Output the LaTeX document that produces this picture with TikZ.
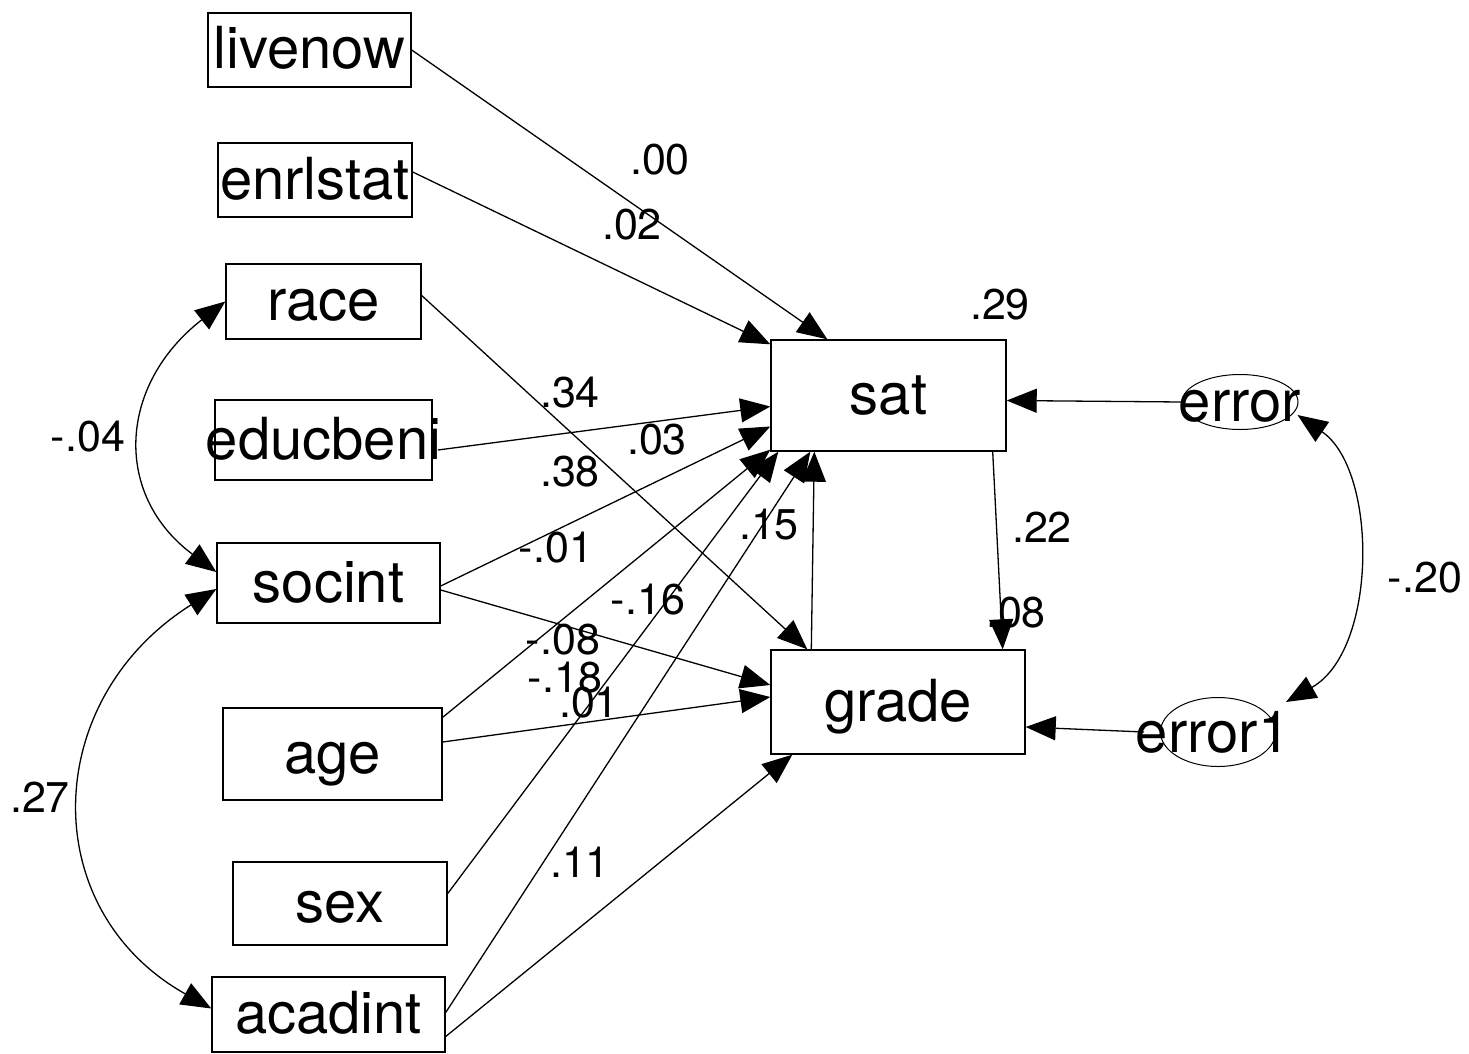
\documentclass[tikz,border=0pt]{standalone}
\usepackage{fontspec}
\setmainfont{TeX Gyre Heros}
\usetikzlibrary{arrows.meta,shapes.geometric,calc}
\begin{document}
\begin{tikzpicture}[x=1pt,y=-1pt,
  box/.style={draw, line width=1.4pt, rectangle, inner sep=0pt, font=\fontsize{58}{60}\selectfont, text height=38pt, text depth=0pt},
  err/.style={draw, line width=1pt, ellipse, inner sep=0pt},
  errtext/.style={font=\fontsize{58}{60}\selectfont, text height=30pt, text depth=0pt, inner sep=0pt},
  lbl/.style={font=\fontsize{43}{45}\selectfont, inner sep=0pt},
  conn/.style={line width=1.3pt, -{Triangle[length=30pt,width=24pt]}},
  cov/.style={line width=1.3pt, {Triangle[length=30pt,width=24pt]}-{Triangle[length=30pt,width=24pt]}}
]
\fill[white] (0,0) rectangle (1469,1054);
\useasboundingbox (0,0) rectangle (1469,1054);

% boxes
\node[box, minimum width=203pt, minimum height=74pt] (livenow) at (309.5,50) {livenow};
\node[box, minimum width=194pt, minimum height=74pt] (enrlstat) at (315,180) {enrlstat};
\node[box, minimum width=195pt, minimum height=75pt] (race) at (323.5,301.5) {race};
\node[box, minimum width=217pt, minimum height=80pt, inner xsep=-9pt] (educbeni) at (323.5,440) {educbeni};
\node[box, minimum width=223pt, minimum height=80pt] (socint) at (328.5,583) {socint};
\node[box, minimum width=219pt, minimum height=92pt] (age) at (332.5,754) {age};
\node[box, minimum width=214pt, minimum height=83pt] (sex) at (340,903.5) {sex};
\node[box, minimum width=233pt, minimum height=75pt] (acadint) at (328.5,1014.5) {acadint};
\node[box, minimum width=235pt, minimum height=111pt] (sat) at (888.5,395.5) {sat};
\node[box, minimum width=254pt, minimum height=104pt] (grade) at (898,702) {grade};
\node[err, minimum width=116pt, minimum height=55pt] (error) at (1240,402) {};
\node[err, minimum width=115pt, minimum height=69pt] (error1) at (1218,732) {};

% connectors
\draw[conn] (livenow.east) -- ($(sat.north west)+(57,0)$);
\draw[conn] ($(enrlstat.east)+(0,-8)$) -- ($(sat.north west)+(0,5)$);
\draw[conn] ($(race.east)+(0,-6)$) -- ($(grade.north west)+(37,0)$);
\draw[conn] ($(educbeni.east)+(5,10)$) -- ($(sat.west)+(0,11)$);
\draw[conn] ($(socint.east)+(0,3)$) -- ($(sat.west)+(0,31)$);
\draw[conn] ($(age.north east)+(0,10)$) -- ($(sat.south west)+(0,-2)$);
\draw[conn] ($(sex.east)+(0,-10)$) -- ($(sat.south west)+(8,0)$);
\draw[conn] ($(acadint.east)+(0,-2)$) -- ($(sat.south west)+(40,0)$);
\draw[conn] ($(acadint.east)+(0,22)$) -- ($(grade.south west)+(22,0)$);
\draw[conn] ($(socint.east)+(0,7)$) -- ($(grade.west)+(0,-17)$);
\draw[conn] ($(age.east)+(0,-12)$) -- ($(grade.west)+(0,-5)$);
\draw[conn] ($(grade.north west)+(41,0)$) -- ($(sat.south west)+(44,0)$);
\draw[conn] ($(sat.south east)+(-14,0)$) -- ($(grade.north east)+(-23,0)$);
\draw[conn] (error.west) -- ($(sat.east)+(0,5)$);
\draw[conn] ($(error1.west)+(-16,0)$) -- ($(grade.east)+(0,25)$);

% covariances
\draw[cov] ($(error.east)+(-1,13)$) .. controls (1378,470) and (1378,650) .. ($(error1.east)+(10,-30)$);
\draw[cov] (race.west) .. controls (118,385) and (113,495) .. ($(socint.west)+(0,-11)$);
\draw[cov] ($(socint.west)+(0,6)$) .. controls (40,700) and (36,910) .. ($(acadint.west)+(0,-6)$);

% ellipse texts
\node[errtext] (errortxt) at (1240,406) {error};
\node[errtext] (error1txt) at (1213,737) {error1};

% labels
\node[lbl] (l00) at (660,160) {.00};
\node[lbl] (l02) at (632,225) {.02};
\node[lbl] (l29) at (1000,305) {.29};
\node[lbl] (l34) at (570,393) {.34};
\node[lbl] (l03) at (657,440) {.03};
\node[lbl] (l38) at (570,472) {.38};
\node[lbl] (lm04) at (88,437) {-.04};
\node[lbl] (lm01) at (556,548) {-.01};
\node[lbl] (l15) at (769,525) {.15};
\node[lbl] (l22) at (1042,527) {.22};
\node[lbl] (lm16) at (648,600) {-.16};
\node[lbl] (l08) at (1016,613) {.08};
\node[lbl] (lm08) at (563,640) {-.08};
\node[lbl] (lm18) at (565,678) {-.18};
\node[lbl] (l01) at (589,703) {.01};
\node[lbl] (lm20) at (1425,578) {-.20};
\node[lbl] (l27) at (40,797) {.27};
\node[lbl] (l11) at (580,862) {.11};
\end{tikzpicture}
\end{document}
